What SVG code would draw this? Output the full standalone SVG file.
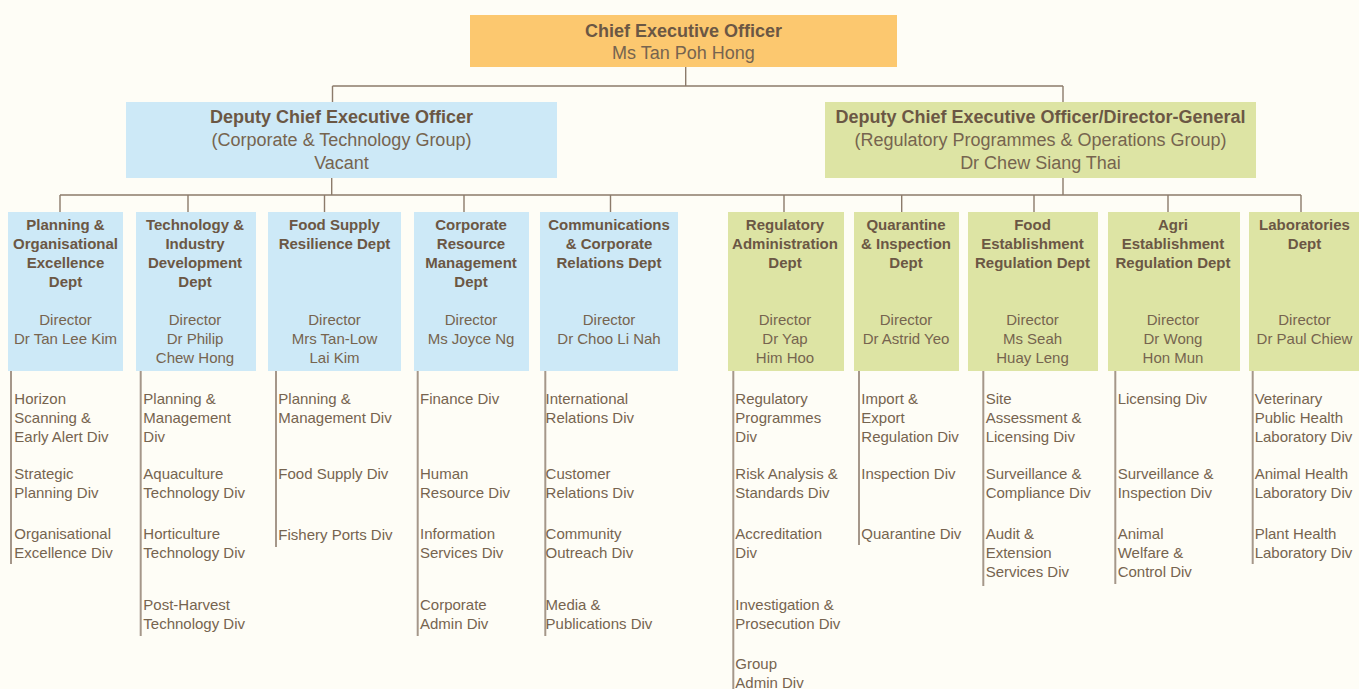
<svg xmlns="http://www.w3.org/2000/svg" width="1359" height="689" viewBox="0 0 1359 689">
<style>
.bg{fill:#fefdf6}
.ceo{fill:#fcc86f}
.blue{fill:#cde9f7}
.green{fill:#dde4a4}
.t{font-family:"Liberation Sans",Arial,sans-serif;fill:#76644f}
.tb{font-weight:bold;fill:#6b5744}
.big{font-size:18px}
.sm{font-size:15px}
.c{text-anchor:middle}
.conn{stroke:#8c7b6b;stroke-width:1.4;fill:none}
.div{stroke:#a5978a;stroke-width:2;fill:none}
</style>
<rect class="bg" x="0" y="0" width="1359" height="689"/>
<g id="connectors">
<path class="conn" d="M685.7 67V86M332.5 86H1063M332.5 86V102M1063 86V102"/>
<path class="conn" d="M331.7 178V195M1063 178V195M60 195H1301"/>
<path class="conn" d="M60 195V212M188 195V212M324.5 195V212M464 195V212M610.5 195V212M784 195V212M901.7 195V212M1034 195V212M1168 195V212M1301 195V212"/>
</g>
<g id="ceo">
<rect class="ceo" x="470" y="15" width="427" height="52"/>
<text class="t tb big c" x="683.5" y="36.5">Chief Executive Officer</text>
<text class="t big c" x="683.5" y="59">Ms Tan Poh Hong</text>
</g>
<g id="dceo1">
<rect class="blue" x="126" y="102" width="431" height="76"/>
<text class="t tb big c" x="341.5" y="123">Deputy Chief Executive Officer</text>
<text class="t big c" x="341.5" y="146">(Corporate &amp; Technology Group)</text>
<text class="t big c" x="341.5" y="168.5">Vacant</text>
</g>
<g id="dceo2">
<rect class="green" x="825" y="102" width="431" height="76"/>
<text class="t tb big c" x="1040.5" y="123">Deputy Chief Executive Officer/Director-General</text>
<text class="t big c" x="1040.5" y="146">(Regulatory Programmes &amp; Operations Group)</text>
<text class="t big c" x="1040.5" y="168.5">Dr Chew Siang Thai</text>
</g>

<g id="dept1">
<rect class="blue" x="8" y="212" width="115" height="159"/>
<text class="t tb sm c" x="65.5"><tspan x="65.5" y="229.5">Planning &amp;</tspan><tspan x="65.5" y="248.7">Organisational</tspan><tspan x="65.5" y="267.9">Excellence</tspan><tspan x="65.5" y="287.1">Dept</tspan></text>
<text class="t sm c"><tspan x="65.5" y="324.5">Director</tspan><tspan x="65.5" y="343.7">Dr Tan Lee Kim</tspan></text>
<path class="div" d="M11 371V564"/>
<text class="t sm"><tspan x="14.3" y="403.5">Horizon</tspan><tspan x="14.3" y="422.7">Scanning &amp;</tspan><tspan x="14.3" y="441.9">Early Alert Div</tspan><tspan x="14.3" y="478.5">Strategic</tspan><tspan x="14.3" y="497.7">Planning Div</tspan><tspan x="14.3" y="538.5">Organisational</tspan><tspan x="14.3" y="557.7">Excellence Div</tspan></text>
</g>

<g id="dept2">
<rect class="blue" x="136" y="212" width="120" height="159"/>
<text class="t tb sm c"><tspan x="195" y="229.5">Technology &amp;</tspan><tspan x="195" y="248.7">Industry</tspan><tspan x="195" y="267.9">Development</tspan><tspan x="195" y="287.1">Dept</tspan></text>
<text class="t sm c"><tspan x="195" y="324.5">Director</tspan><tspan x="195" y="343.7">Dr Philip</tspan><tspan x="195" y="362.9">Chew Hong</tspan></text>
<path class="div" d="M140.7 371V636"/>
<text class="t sm"><tspan x="143.3" y="403.5">Planning &amp;</tspan><tspan x="143.3" y="422.7">Management</tspan><tspan x="143.3" y="441.9">Div</tspan><tspan x="143.3" y="478.5">Aquaculture</tspan><tspan x="143.3" y="497.7">Technology Div</tspan><tspan x="143.3" y="538.5">Horticulture</tspan><tspan x="143.3" y="557.7">Technology Div</tspan><tspan x="143.3" y="609.5">Post-Harvest</tspan><tspan x="143.3" y="628.7">Technology Div</tspan></text>
</g>

<g id="dept3">
<rect class="blue" x="268" y="212" width="133" height="159"/>
<text class="t tb sm c"><tspan x="334.5" y="229.5">Food Supply</tspan><tspan x="334.5" y="248.7">Resilience Dept</tspan></text>
<text class="t sm c"><tspan x="334.5" y="324.5">Director</tspan><tspan x="334.5" y="343.7">Mrs Tan-Low</tspan><tspan x="334.5" y="362.9">Lai Kim</tspan></text>
<path class="div" d="M276 371V547"/>
<text class="t sm"><tspan x="278.3" y="403.5">Planning &amp;</tspan><tspan x="278.3" y="422.7">Management Div</tspan><tspan x="278.3" y="478.5">Food Supply Div</tspan><tspan x="278.3" y="540">Fishery Ports Div</tspan></text>
</g>

<g id="dept4">
<rect class="blue" x="414" y="212" width="115" height="159"/>
<text class="t tb sm c"><tspan x="471" y="229.5">Corporate</tspan><tspan x="471" y="248.7">Resource</tspan><tspan x="471" y="267.9">Management</tspan><tspan x="471" y="287.1">Dept</tspan></text>
<text class="t sm c"><tspan x="471" y="324.5">Director</tspan><tspan x="471" y="343.7">Ms Joyce Ng</tspan></text>
<path class="div" d="M417.7 371V636"/>
<text class="t sm"><tspan x="420" y="403.5">Finance Div</tspan><tspan x="420" y="478.5">Human</tspan><tspan x="420" y="497.7">Resource Div</tspan><tspan x="420" y="538.5">Information</tspan><tspan x="420" y="557.7">Services Div</tspan><tspan x="420" y="609.5">Corporate</tspan><tspan x="420" y="628.7">Admin Div</tspan></text>
</g>

<g id="dept5">
<rect class="blue" x="540" y="212" width="138" height="159"/>
<text class="t tb sm c"><tspan x="609" y="229.5">Communications</tspan><tspan x="609" y="248.7">&amp; Corporate</tspan><tspan x="609" y="267.9">Relations Dept</tspan></text>
<text class="t sm c"><tspan x="609" y="324.5">Director</tspan><tspan x="609" y="343.7">Dr Choo Li Nah</tspan></text>
<path class="div" d="M545.3 371V636"/>
<text class="t sm"><tspan x="545.6" y="403.5">International</tspan><tspan x="545.6" y="422.7">Relations Div</tspan><tspan x="545.6" y="478.5">Customer</tspan><tspan x="545.6" y="497.7">Relations Div</tspan><tspan x="545.6" y="538.5">Community</tspan><tspan x="545.6" y="557.7">Outreach Div</tspan><tspan x="545.6" y="609.5">Media &amp;</tspan><tspan x="545.6" y="628.7">Publications Div</tspan></text>
</g>

<g id="dept6">
<rect class="green" x="728" y="212" width="116" height="159"/>
<text class="t tb sm c"><tspan x="785" y="229.5">Regulatory</tspan><tspan x="785" y="248.7">Administration</tspan><tspan x="785" y="267.9">Dept</tspan></text>
<text class="t sm c"><tspan x="785" y="324.5">Director</tspan><tspan x="785" y="343.7">Dr Yap</tspan><tspan x="785" y="362.9">Him Hoo</tspan></text>
<path class="div" d="M733.3 371V689"/>
<text class="t sm"><tspan x="735.3" y="403.5">Regulatory</tspan><tspan x="735.3" y="422.7">Programmes</tspan><tspan x="735.3" y="441.9">Div</tspan><tspan x="735.3" y="478.5">Risk Analysis &amp;</tspan><tspan x="735.3" y="497.7">Standards Div</tspan><tspan x="735.3" y="538.5">Accreditation</tspan><tspan x="735.3" y="557.7">Div</tspan><tspan x="735.3" y="609.5">Investigation &amp;</tspan><tspan x="735.3" y="628.7">Prosecution Div</tspan><tspan x="735.3" y="668.5">Group</tspan><tspan x="735.3" y="687.7">Admin Div</tspan></text>
</g>

<g id="dept7">
<rect class="green" x="854" y="212" width="105" height="159"/>
<text class="t tb sm c"><tspan x="906" y="229.5">Quarantine</tspan><tspan x="906" y="248.7">&amp; Inspection</tspan><tspan x="906" y="267.9">Dept</tspan></text>
<text class="t sm c"><tspan x="906" y="324.5">Director</tspan><tspan x="906" y="343.7">Dr Astrid Yeo</tspan></text>
<path class="div" d="M859 371V545"/>
<text class="t sm"><tspan x="861.3" y="403.5">Import &amp;</tspan><tspan x="861.3" y="422.7">Export</tspan><tspan x="861.3" y="441.9">Regulation Div</tspan><tspan x="861.3" y="478.5">Inspection Div</tspan><tspan x="861.3" y="538.5">Quarantine Div</tspan></text>
</g>

<g id="dept8">
<rect class="green" x="968" y="212" width="130" height="159"/>
<text class="t tb sm c"><tspan x="1032.5" y="229.5">Food</tspan><tspan x="1032.5" y="248.7">Establishment</tspan><tspan x="1032.5" y="267.9">Regulation Dept</tspan></text>
<text class="t sm c"><tspan x="1032.5" y="324.5">Director</tspan><tspan x="1032.5" y="343.7">Ms Seah</tspan><tspan x="1032.5" y="362.9">Huay Leng</tspan></text>
<path class="div" d="M983.3 371V586"/>
<text class="t sm"><tspan x="985.7" y="403.5">Site</tspan><tspan x="985.7" y="422.7">Assessment &amp;</tspan><tspan x="985.7" y="441.9">Licensing Div</tspan><tspan x="985.7" y="478.5">Surveillance &amp;</tspan><tspan x="985.7" y="497.7">Compliance Div</tspan><tspan x="985.7" y="538.5">Audit &amp;</tspan><tspan x="985.7" y="557.7">Extension</tspan><tspan x="985.7" y="576.9">Services Div</tspan></text>
</g>

<g id="dept9">
<rect class="green" x="1108" y="212" width="132" height="159"/>
<text class="t tb sm c"><tspan x="1173" y="229.5">Agri</tspan><tspan x="1173" y="248.7">Establishment</tspan><tspan x="1173" y="267.9">Regulation Dept</tspan></text>
<text class="t sm c"><tspan x="1173" y="324.5">Director</tspan><tspan x="1173" y="343.7">Dr Wong</tspan><tspan x="1173" y="362.9">Hon Mun</tspan></text>
<path class="div" d="M1115.3 371V584"/>
<text class="t sm"><tspan x="1117.7" y="403.5">Licensing Div</tspan><tspan x="1117.7" y="478.5">Surveillance &amp;</tspan><tspan x="1117.7" y="497.7">Inspection Div</tspan><tspan x="1117.7" y="538.5">Animal</tspan><tspan x="1117.7" y="557.7">Welfare &amp;</tspan><tspan x="1117.7" y="576.9">Control Div</tspan></text>
</g>

<g id="dept10">
<rect class="green" x="1249" y="212" width="110" height="159"/>
<text class="t tb sm c"><tspan x="1304.5" y="229.5">Laboratories</tspan><tspan x="1304.5" y="248.7">Dept</tspan></text>
<text class="t sm c"><tspan x="1304.5" y="324.5">Director</tspan><tspan x="1304.5" y="343.7">Dr Paul Chiew</tspan></text>
<path class="div" d="M1252.7 371V564"/>
<text class="t sm"><tspan x="1254.7" y="403.5">Veterinary</tspan><tspan x="1254.7" y="422.7">Public Health</tspan><tspan x="1254.7" y="441.9">Laboratory Div</tspan><tspan x="1254.7" y="478.5">Animal Health</tspan><tspan x="1254.7" y="497.7">Laboratory Div</tspan><tspan x="1254.7" y="538.5">Plant Health</tspan><tspan x="1254.7" y="557.7">Laboratory Div</tspan></text>
</g>
</svg>
